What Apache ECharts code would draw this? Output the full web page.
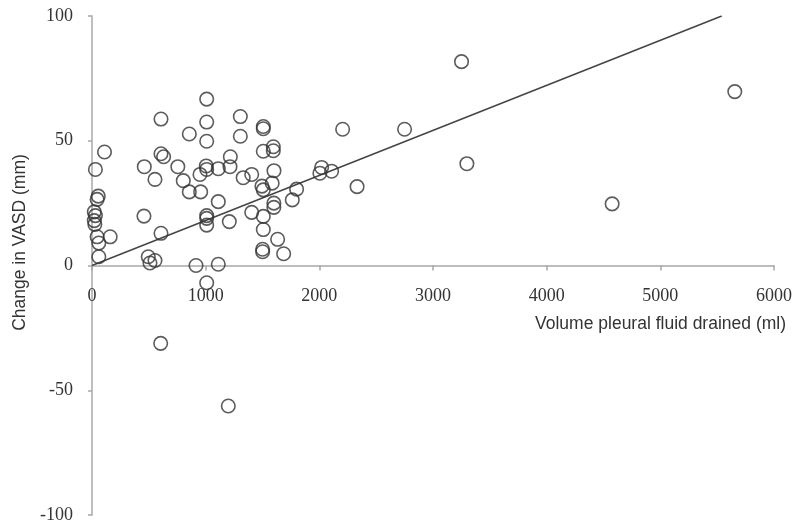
<!DOCTYPE html>
<html>
<head>
<meta charset="utf-8">
<title>VASD vs pleural fluid drained</title>
<script src="https://cdn.jsdelivr.net/npm/echarts@6/dist/echarts.min.js"></script>
<style>
html, body { margin: 0; padding: 0; background: #fff; }
#main { width: 796px; height: 525px; }
</style>
</head>
<body>
<div id="main"></div>
<script>
// volume drained (ml) and change in VASD (mm)
var volume = [
    30, 110, 55, 45, 20, 30, 25, 20, 45, 160, 60, 60,
    460, 457, 495, 554, 510, 554, 607, 607, 630, 607,
    755, 803, 856, 856, 956, 950,
    1009, 1009, 1009, 1005, 1009, 1009, 1009, 1009, 915, 1009,
    1111, 1111, 1111, 1217, 1214, 1208,
    1305, 1305, 1330, 1405, 1405,
    1507, 1507, 1507, 1495, 1507, 1507, 1507, 1501, 1501,
    1595, 1595, 1601, 1585, 1600, 1600, 1633, 1686, 1762, 1800,
    2005, 2020, 2108, 2205, 2332, 2750, 3251, 3298, 4576, 5655,
    604, 1199
];
var vasdChange = [
    38.5, 45.5, 27.8, 26.5, 21.5, 20, 16.5, 18, 11.5, 11.5, 9, 3.5,
    39.6, 19.8, 3.5, 2, 1, 34.5, 58.7, 44.8, 43.6, 12.9,
    39.6, 34, 52.7, 29.5, 29.5, 36.5,
    66.7, 57.5, 49.8, 39.9, 38.5, 20, 18.9, 16.2, 0, -6.9,
    38.8, 25.6, 0.5, 43.6, 39.6, 17.6,
    59.7, 51.8, 35.2, 36.5, 21.3,
    55.7, 54.8, 45.8, 31.8, 30.3, 19.7, 14.4, 6.5, 5.5,
    47.6, 46, 38, 33, 25, 23.3, 10.5, 4.7, 26.3, 30.6,
    37, 39.3, 37.8, 54.6, 31.6, 54.6, 81.7, 40.8, 24.7, 69.7,
    -31.2, -56.3
];
// fitted line end points
var fitX = [0, 5540];
var fitY = [0, 100];

var xTicks = [0, 1000, 2000, 3000, 4000, 5000, 6000];
var yTicks = [-100, -50, 0, 50, 100];

var points = volume.map(function (v, i) { return [v, vasdChange[i]]; });
var fit = fitX.map(function (v, i) { return [v, fitY[i]]; });

var chart = echarts.init(document.getElementById('main'));
var axisGray = '#a8a8a8';
var gridH = 525 - 16 - 10;
// x axis sits on y = 0: shift it up from the grid bottom
var xShift = -gridH * (0 - yTicks[0]) / (yTicks[yTicks.length - 1] - yTicks[0]);
var option = {
    animation: false,
    grid: { left: 92, right: 22, top: 16, bottom: 10, outerBoundsMode: 'none', containLabel: false },
    xAxis: {
        type: 'value',
        min: xTicks[0],
        max: xTicks[xTicks.length - 1],
        interval: 1000,
        offset: xShift,
        name: 'Volume pleural fluid drained (ml)',
        nameLocation: 'end',
        nameGap: 12,
        nameTextStyle: {
            fontFamily: 'Liberation Sans',
            fontSize: 17.5,
            color: '#333',
            align: 'right',
            verticalAlign: 'top',
            padding: [50, 0, 0, 0]
        },
        axisLine: { onZero: false, lineStyle: { color: axisGray, width: 1.5 } },
        axisTick: { show: true, length: 5, lineStyle: { color: axisGray, width: 1.5 } },
        axisLabel: {
            margin: 22, fontFamily: 'Liberation Serif', fontSize: 18, color: '#333',
            formatter: function (v) { return String(v); }
        },
        splitLine: { show: false }
    },
    yAxis: {
        type: 'value',
        min: yTicks[0],
        max: yTicks[yTicks.length - 1],
        interval: 50,
        name: 'Change in VASD (mm)',
        nameLocation: 'middle',
        nameGap: 61,
        nameTextStyle: {
            fontFamily: 'Liberation Sans',
            fontSize: 17.5,
            color: '#333',
            padding: [0, 0, 0, 46]
        },
        axisLine: { onZero: false, lineStyle: { color: axisGray, width: 1.5 } },
        axisTick: { show: true, length: 4, lineStyle: { color: axisGray, width: 1.5 } },
        axisLabel: {
            margin: 19, fontFamily: 'Liberation Serif', fontSize: 18, color: '#333',
            formatter: function (v) { return String(v); }
        },
        splitLine: { show: false }
    },
    series: [
        {
            type: 'scatter',
            data: points,
            symbol: 'circle',
            symbolSize: 13.5,
            itemStyle: { color: 'rgba(255,255,255,0)', borderColor: '#333', borderWidth: 1.6 },
            z: 3
        },
        {
            type: 'line',
            data: fit,
            symbol: 'none',
            lineStyle: { color: '#444', width: 1.5 },
            z: 2
        }
    ]
};
chart.setOption(option);
</script>
</body>
</html>
